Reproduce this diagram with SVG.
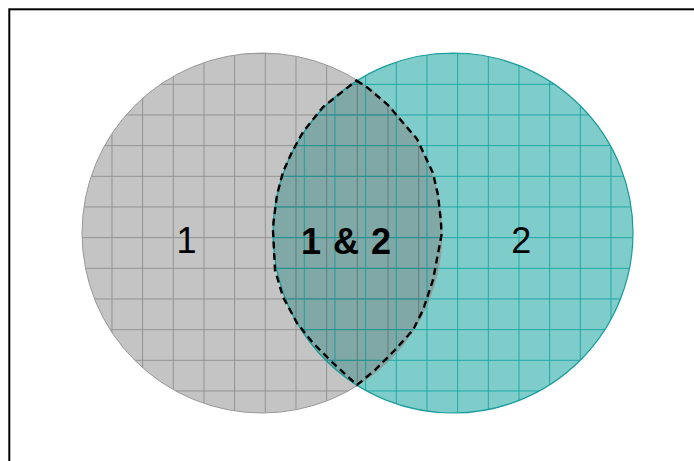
<svg xmlns="http://www.w3.org/2000/svg" width="694" height="461" viewBox="0 0 694 461">
  <style>
    .lbl { font-family: "Liberation Sans", Arial, sans-serif; font-size: 36px; fill: #000; text-anchor: middle; }
    .bold { font-weight: bold; word-spacing: 2px; }
  </style>
  <defs>
    <clipPath id="c1"><circle cx="262" cy="233" r="180"/></clipPath>
    <clipPath id="c2"><circle cx="453" cy="233" r="180"/></clipPath>
    <pattern id="g1" patternUnits="userSpaceOnUse" x="19.47" y="22.47" width="30.667" height="30.667">
      <path d="M0 0H30.667V1H1V30.667H0Z" fill="#000" fill-opacity="0.25"/>
    </pattern>
    <pattern id="g2" patternUnits="userSpaceOnUse" x="27.8" y="22.47" width="30.667" height="30.667">
      <path d="M0 0H30.667V1H1V30.667H0Z" fill="#009999" fill-opacity="0.75"/>
    </pattern>
  </defs>
  <rect width="694" height="461" fill="#fff"/>
  <g id="frame">
    <rect x="9.3" y="9.3" width="720" height="500" fill="none" stroke="#000" stroke-width="2"/>
  </g>
  <g id="node-1">
    <circle cx="262" cy="233" r="180" fill="#c4c4c4"/>
  </g>
  <g id="node-2">
    <circle cx="453" cy="233" r="180" fill="#7fcdcb"/>
  </g>
  <g id="overlap-fill" clip-path="url(#c1)">
    <circle cx="453" cy="233" r="180" fill="#80a8a6"/>
  </g>
  <g id="grids">
    <rect x="80" y="50" width="370" height="370" fill="url(#g1)" clip-path="url(#c1)"/>
    <rect x="270" y="50" width="370" height="370" fill="url(#g2)" clip-path="url(#c2)"/>
  </g>
  <g id="outlines" fill="none">
    <circle cx="262" cy="233" r="180" stroke="#999" stroke-width="1"/>
    <circle cx="453" cy="233" r="180" stroke="#169c9c" stroke-width="1.2"/>
  </g>
  <g id="connectors">
    <path id="intersection-outline" d="M356.5,80.5 L368,88 L388,105 L405,125 L417,139 L425,156 L433,173 L438,195 L441,222 L441.5,235 L438.5,251 L433,280 L423,310 L413,330 L395,350 L375,370 L357,385 L333,363 L313,343 L297,323 L283,297 L275,270 L273,230 L273.5,222 L277,195 L283,172 L292,152 L303,132 L323,107 Z" fill="none" stroke="#000" stroke-width="2.4" stroke-dasharray="7,4.5"/>
  </g>
  <g id="labels">
    <text class="lbl" x="186.4" y="252.7">1</text>
    <text class="lbl" x="521.3" y="252.7">2</text>
    <text class="lbl bold" x="346" y="254">1 &amp; 2</text>
  </g>
</svg>
